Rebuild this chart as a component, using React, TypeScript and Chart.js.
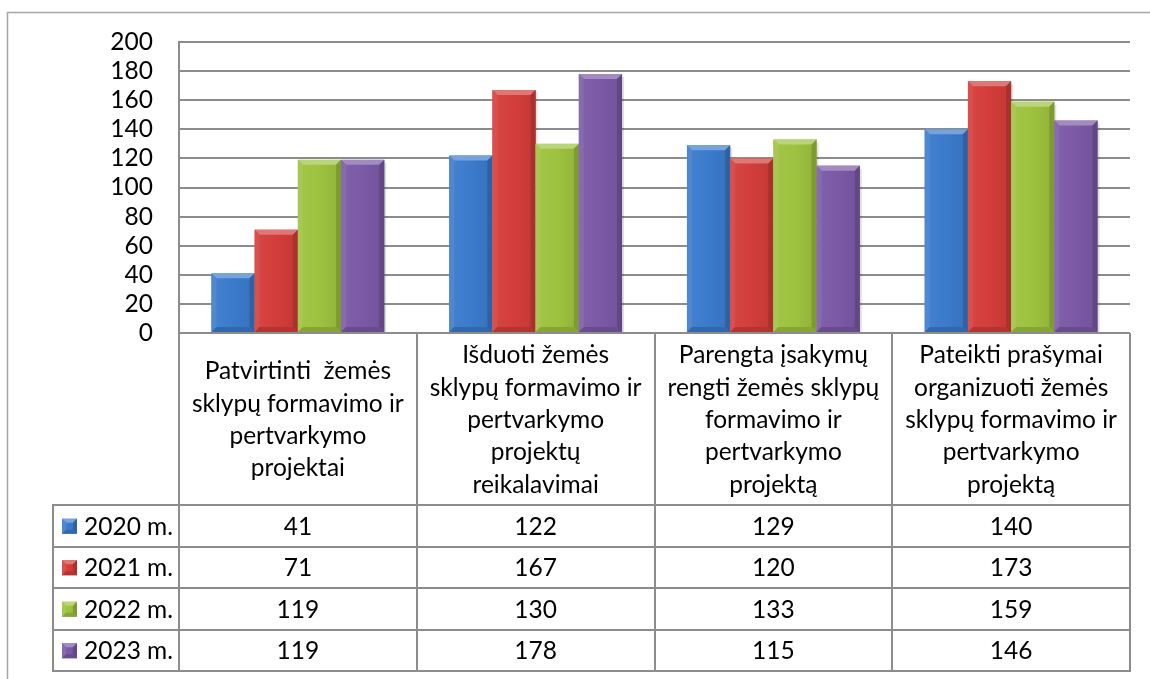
import React, { useEffect, useRef } from "react";
import { Chart, registerables } from "chart.js";

Chart.register(...registerables);

const categories: string[][] = [
  ["Patvirtinti  žemės", "sklypų formavimo ir", "pertvarkymo", "projektai"],
  ["Išduoti žemės", "sklypų formavimo ir", "pertvarkymo", "projektų", "reikalavimai"],
  ["Parengta įsakymų", "rengti žemės sklypų", "formavimo ir", "pertvarkymo", "projektą"],
  ["Pateikti prašymai", "organizuoti žemės", "sklypų formavimo ir", "pertvarkymo", "projektą"],
];
const seriesNames = ["2020 m.", "2021 m.", "2022 m.", "2023 m."];
const values2020 = [41, 122, 129, 140];
const values2021 = [71, 167, 120, 173];
const values2022 = [119, 130, 133, 159];
const values2023 = [119, 178, 115, 146];
const seriesColors = ["#3b7bcc", "#d33d3a", "#9dc23f", "#7b59a6"];
const yMin = 0;
const yMax = 200;
const yStep = 20;

const FONT = "Lato, 'Open Sans', sans-serif";
const FS = 24.5;
const LINE = "#8c8c8c";

function mix(hex: string, target: number, amt: number) {
  const n = parseInt(hex.slice(1), 16);
  const r = (n >> 16) & 255, g = (n >> 8) & 255, b = n & 255;
  const f = (c: number) => Math.round(c + (target - c) * amt);
  return `rgb(${f(r)},${f(g)},${f(b)})`;
}

function bevelRect(ctx: CanvasRenderingContext2D, l: number, t: number, r: number, b: number, color: string, s: number) {
  const w = r - l, h = b - t;
  const bs = Math.min(s, w / 2, h / 2);
  ctx.save();
  const g = ctx.createLinearGradient(l, 0, r, 0);
  g.addColorStop(0, mix(color, 255, 0.05));
  g.addColorStop(0.5, color);
  g.addColorStop(1, mix(color, 0, 0.08));
  ctx.fillStyle = g;
  ctx.fillRect(l, t, w, h);
  const poly = (pts: number[][], fill: string) => {
    ctx.beginPath();
    ctx.moveTo(pts[0][0], pts[0][1]);
    for (let i = 1; i < pts.length; i++) ctx.lineTo(pts[i][0], pts[i][1]);
    ctx.closePath();
    ctx.fillStyle = fill;
    ctx.fill();
  };
  poly([[l, t], [r, t], [r - bs, t + bs], [l + bs, t + bs]], mix(color, 255, 0.3));
  poly([[l, t], [l + bs, t + bs], [l + bs, b - bs], [l, b]], mix(color, 255, 0.1));
  poly([[r, t], [r, b], [r - bs, b - bs], [r - bs, t + bs]], mix(color, 0, 0.2));
  poly([[l, b], [l + bs, b - bs], [r - bs, b - bs], [r, b]], mix(color, 0, 0.15));
  ctx.restore();
}

const bevelPlugin = {
  id: "bevelBars",
  afterDatasetsDraw(chart: any) {
    const ctx = chart.ctx as CanvasRenderingContext2D;
    chart.data.datasets.forEach((ds: any, di: number) => {
      const meta = chart.getDatasetMeta(di);
      meta.data.forEach((el: any) => {
        const { x, y, base, width } = el.getProps(["x", "y", "base", "width"], true);
        ctx.save();
        ctx.fillStyle = "rgba(0,0,0,0.12)";
        ctx.fillRect(x + width / 2, y + 3, 2, base - y - 3);
        ctx.restore();
        bevelRect(ctx, x - width / 2, y, x + width / 2, base, ds.baseColor, 5);
      });
    });
  },
};

const tablePlugin = {
  id: "dataTable",
  afterDraw(chart: any) {
    const ctx = chart.ctx as CanvasRenderingContext2D;
    const area = chart.chartArea;
    const xs = chart.scales.x;
    const n = chart.data.labels.length;
    const colW = (area.right - area.left) / n;
    const headerTop = area.bottom;
    const headerBottom = 505;
    const rowH = 41.5;
    const legendLeft = 53;
    const nRows = chart.data.datasets.length;
    const tableBottom = headerBottom + rowH * nRows;

    ctx.save();
    ctx.strokeStyle = "#a6a6a6";
    ctx.lineWidth = 1.5;
    ctx.beginPath();
    ctx.moveTo(7.5, 679);
    ctx.lineTo(7.5, 12.5);
    ctx.lineTo(1150, 12.5);
    ctx.stroke();

    ctx.strokeStyle = LINE;
    ctx.lineWidth = 2;
    ctx.beginPath();
    for (let i = 0; i <= n; i++) {
      const x = Math.round(area.left + i * colW);
      ctx.moveTo(x, headerTop);
      ctx.lineTo(x, tableBottom);
    }
    ctx.moveTo(legendLeft, headerBottom);
    ctx.lineTo(legendLeft, tableBottom);
    for (let r = 0; r <= nRows; r++) {
      const y = Math.round(headerBottom + r * rowH);
      ctx.moveTo(legendLeft - 1, y);
      ctx.lineTo(area.right + 1, y);
    }
    ctx.stroke();

    ctx.fillStyle = "#000";
    ctx.font = `${FS}px ${FONT}`;
    ctx.textAlign = "center";
    ctx.textBaseline = "middle";
    const lh = 32.3;
    chart.data.labels.forEach((lines: string[], i: number) => {
      const cx = xs.getPixelForValue(i);
      const cy = (headerTop + headerBottom) / 2 + 1;
      const startY = cy - ((lines.length - 1) * lh) / 2;
      lines.forEach((ln, k) => ctx.fillText(ln, cx, startY + k * lh));
    });

    chart.data.datasets.forEach((ds: any, r: number) => {
      const cy = headerBottom + r * rowH + rowH / 2 + 1;
      ds.data.forEach((v: number, i: number) => {
        ctx.textAlign = "center";
        ctx.fillText(String(v), xs.getPixelForValue(i), cy);
      });
      bevelRect(ctx, 62, cy - 8, 77, cy + 7, ds.baseColor, 4);
      ctx.fillStyle = "#000";
      ctx.textAlign = "left";
      ctx.fillText(ds.label, 84, cy);
    });
    ctx.restore();
  },
};

export default function App() {
  const ref = useRef<HTMLCanvasElement>(null);
  useEffect(() => {
    const series = [values2020, values2021, values2022, values2023];
    const chart = new Chart(ref.current!, {
      type: "bar",
      data: {
        labels: categories as any,
        datasets: series.map((d, i) => ({
          label: seriesNames[i],
          data: d,
          backgroundColor: "rgba(0,0,0,0)",
          baseColor: seriesColors[i],
          categoryPercentage: 0.727,
          barPercentage: 1,
        })) as any,
      },
      options: {
        animation: false,
        responsive: false,
        devicePixelRatio: 1,
        layout: { padding: { left: 0, top: 42, right: 20, bottom: 346 } },
        plugins: { legend: { display: false }, tooltip: { enabled: false } },
        scales: {
          x: { display: false },
          y: {
            min: yMin,
            max: yMax,
            afterFit(scale: any) {
              scale.width = 179;
            },
            ticks: {
              stepSize: yStep,
              autoSkip: false,
              color: "#000",
              padding: 26,
              font: { family: FONT, size: FS },
            },
            grid: { color: LINE, lineWidth: 2, drawTicks: false },
            border: { display: true, color: LINE, width: 2 },
          },
        },
      },
      plugins: [bevelPlugin, tablePlugin],
    });
    return () => chart.destroy();
  }, []);
  return (
    <div style={{ position: "fixed", left: 0, top: 0, width: 1150, height: 679, background: "#fff" }}>
      <canvas ref={ref} width={1150} height={679} style={{ width: 1150, height: 679 }} />
    </div>
  );
}
